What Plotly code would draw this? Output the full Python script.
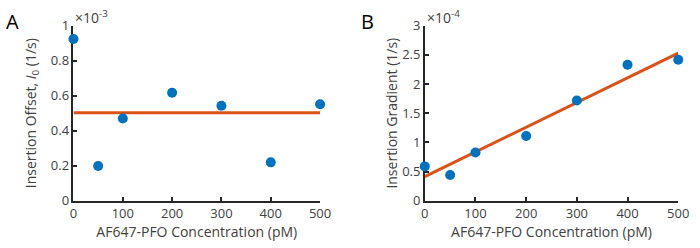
import plotly.graph_objects as go

# Data
conc = [0, 50, 100, 200, 300, 400, 500]
offset_e3 = [0.924, 0.198, 0.47, 0.617, 0.543, 0.219, 0.551]   # x 1e-3 (1/s)
offset_fit_x = [0, 500]
offset_fit_y = [0.503, 0.503]
gradient_e4 = [0.588, 0.44, 0.827, 1.108, 1.717, 2.33, 2.417]  # x 1e-4 (1/s)
grad_fit_x = [0, 500]
grad_fit_y = [0.413, 2.528]

x_ticks = [0, 100, 200, 300, 400, 500]
a_yticks = [0, 0.2, 0.4, 0.6, 0.8, 1]
a_yticktext = ["0", "0.2", "0.4", "0.6", "0.8", "1"]
b_yticks = [0, 0.5, 1, 1.5, 2, 2.5, 3]
b_yticktext = ["0", "0.5", "1", "1.5", "2", "2.5", "3"]

BLUE = "#0072BD"
ORANGE = "#D95319"
AX = "#262626"
TXT = "#404040"
FONT = "Open Sans"

fig = go.Figure()
fig.add_trace(go.Scatter(x=offset_fit_x, y=offset_fit_y, mode="lines",
                         line=dict(color=ORANGE, width=3), xaxis="x", yaxis="y",
                         showlegend=False, cliponaxis=False))
fig.add_trace(go.Scatter(x=conc, y=offset_e3, mode="markers",
                         marker=dict(color=BLUE, size=10), xaxis="x", yaxis="y",
                         showlegend=False, cliponaxis=False))
fig.add_trace(go.Scatter(x=grad_fit_x, y=grad_fit_y, mode="lines",
                         line=dict(color=ORANGE, width=3), xaxis="x2", yaxis="y2",
                         showlegend=False, cliponaxis=False))
fig.add_trace(go.Scatter(x=conc, y=gradient_e4, mode="markers",
                         marker=dict(color=BLUE, size=10), xaxis="x2", yaxis="y2",
                         showlegend=False, cliponaxis=False))

common_x = dict(range=[0, 500], tickvals=x_ticks, ticks="inside", ticklen=4,
                tickwidth=1.5, tickcolor=AX, showline=True, linecolor=AX,
                linewidth=1.5, showgrid=False, zeroline=False,
                tickfont=dict(family=FONT, size=13, color=TXT),
                layer="below traces",
                title=dict(text="AF647-PFO Concentration (pM)",
                           font=dict(family=FONT, size=14, color=TXT), standoff=5))

fig.update_layout(
    width=700, height=248,
    margin=dict(l=0, r=0, t=0, b=0),
    paper_bgcolor="white", plot_bgcolor="white",
    font=dict(family=FONT, color=TXT),
    xaxis=dict(domain=[71/700, 323/700], anchor="y", **common_x),
    xaxis2=dict(domain=[430/700, 689/700], anchor="y2", **common_x),
    yaxis=dict(domain=[1-206.7/248, 1-18/248], anchor="x", range=[0, 1],
               tickvals=a_yticks, ticktext=a_yticktext, ticks="inside", ticklen=4,
               tickwidth=1.5, tickcolor=AX, showline=True, linecolor=AX, linewidth=1.5,
               showgrid=False, zeroline=False, layer="below traces",
               tickfont=dict(family=FONT, size=13, color=TXT),
               title=dict(text="Insertion Offset, <i>I</i><sub>0</sub> (1/s)",
                          font=dict(family=FONT, size=14, color=TXT), standoff=11)),
    yaxis2=dict(domain=[1-206.7/248, 1-18/248], anchor="x2", range=[0, 3],
                tickvals=b_yticks, ticktext=b_yticktext, ticks="inside", ticklen=4,
                tickwidth=1.5, tickcolor=AX, showline=True, linecolor=AX, linewidth=1.5,
                showgrid=False, zeroline=False, layer="below traces",
                tickfont=dict(family=FONT, size=13, color=TXT),
                title=dict(text="Insertion Gradient (1/s)",
                           font=dict(family=FONT, size=14, color=TXT), standoff=1)),
    annotations=[
        dict(text="×10<sup>-3</sup>", xref="x domain", yref="y domain", x=0, y=1,
             xanchor="left", yanchor="bottom", xshift=0, yshift=-3, showarrow=False,
             font=dict(family=FONT, size=14, color=TXT)),
        dict(text="×10<sup>-4</sup>", xref="x2 domain", yref="y2 domain", x=0, y=1,
             xanchor="left", yanchor="bottom", xshift=0, yshift=-3, showarrow=False,
             font=dict(family=FONT, size=14, color=TXT)),
        dict(text="A", xref="paper", yref="paper", x=8.5/700, y=1-14/248,
             xanchor="center", yanchor="middle", showarrow=False,
             font=dict(family=FONT, size=20, color="black")),
        dict(text="B", xref="paper", yref="paper", x=371/700, y=1-14/248,
             xanchor="center", yanchor="middle", showarrow=False,
             font=dict(family=FONT, size=20, color="black")),
    ],
)

fig.write_html("out.html", config={"displayModeBar": False},
               post_script="document.body.style.margin='0';document.body.style.overflow='hidden';")
